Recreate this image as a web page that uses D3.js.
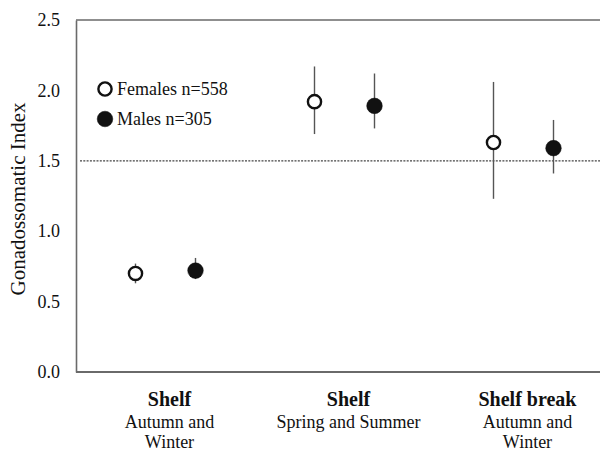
<!DOCTYPE html>
<html>
<head>
<meta charset="utf-8">
<script src="https://cdn.jsdelivr.net/npm/d3@7"></script>
<style>
  html, body { margin: 0; padding: 0; background: #fff; }
  svg { display: block; font-family: "Liberation Serif", "Times New Roman", serif; }
</style>
</head>
<body>
<svg id="chart" width="600" height="453"></svg>
<script>
// Zone / season groups
const groupTitles = ["Shelf", "Shelf", "Shelf break"];
const groupSubtitles = [["Autumn and", "Winter"], ["Spring and Summer"], ["Autumn and", "Winter"]];

// Gonadosomatic index: mean and interval bounds per group
const femaleMean  = [0.70, 1.92, 1.63];
const femaleUpper = [0.77, 2.17, 2.06];
const femaleLower = [0.63, 1.69, 1.23];

const maleMean  = [0.72, 1.89, 1.59];
const maleUpper = [0.81, 2.12, 1.79];
const maleLower = [0.66, 1.73, 1.41];

const seriesNames = ["Females n=558", "Males n=305"];
const yTicks = [0.0, 0.5, 1.0, 1.5, 2.0, 2.5];
const referenceLevel = 1.5;
const yLabel = "Gonadossomatic Index";

const svg = d3.select("#chart");
const plotLeft = 76, plotTop = 20, plotBottom = 372, plotRight = 613;
const ink = "#111";

const x = d3.scaleBand().domain(d3.range(groupTitles.length)).range([plotLeft, plotRight]).padding(0);
const sex = d3.scalePoint().domain(["F", "M"])
  .range([x.bandwidth() / 2 - 30, x.bandwidth() / 2 + 30]);
const y = d3.scaleLinear().domain([0, 2.5]).range([plotBottom, plotTop]);

// frame: top and bottom rules
svg.append("line").attr("x1", plotLeft).attr("x2", 600).attr("y1", y(2.5)).attr("y2", y(2.5))
  .attr("stroke", "#6a6a6a").attr("stroke-width", 1.5);
svg.append("line").attr("x1", plotLeft).attr("x2", 600).attr("y1", y(0)).attr("y2", y(0))
  .attr("stroke", "#6a6a6a").attr("stroke-width", 1.8);

// left axis
const yAxis = svg.append("g").attr("transform", `translate(${plotLeft},0)`)
  .call(d3.axisLeft(y).tickValues(yTicks).tickFormat(d3.format(".1f")).tickSize(0).tickSizeOuter(0).tickPadding(16));
yAxis.select(".domain").attr("stroke", "#6a6a6a").attr("stroke-width", 1.6);
yAxis.selectAll("text").attr("font-size", 18).attr("fill", ink)
  .attr("font-family", "'Liberation Serif', 'Times New Roman', serif");

// axis title
svg.append("text")
  .attr("transform", `translate(25,199) rotate(-90)`)
  .attr("text-anchor", "middle").attr("font-size", 21).attr("fill", ink)
  .text(yLabel);

// reference level
svg.append("line").attr("x1", plotLeft + 4).attr("x2", 600)
  .attr("y1", y(referenceLevel)).attr("y2", y(referenceLevel))
  .attr("stroke", "#444").attr("stroke-width", 1.3).attr("stroke-dasharray", "2,1.3");

// series points with intervals
const series = [
  { key: "F", mean: femaleMean, lo: femaleLower, hi: femaleUpper, fill: "#fff", r: 6.6, sw: 2.4 },
  { key: "M", mean: maleMean, lo: maleLower, hi: maleUpper, fill: ink, r: 7.8, sw: 0.5 }
];

series.forEach(s => {
  const g = svg.append("g");
  const idx = d3.range(s.mean.length);
  g.selectAll("line.err").data(idx).join("line").attr("class", "err")
    .attr("x1", i => x(i) + sex(s.key)).attr("x2", i => x(i) + sex(s.key))
    .attr("y1", i => y(s.lo[i])).attr("y2", i => y(s.hi[i]))
    .attr("stroke", "#555").attr("stroke-width", 1.4);
  g.selectAll("circle").data(idx).join("circle")
    .attr("cx", i => x(i) + sex(s.key)).attr("cy", i => y(s.mean[i]))
    .attr("r", s.r).attr("fill", s.fill).attr("stroke", ink).attr("stroke-width", s.sw);
});

// legend
const legend = svg.append("g");
seriesNames.forEach((name, i) => {
  const s = series[i];
  const cy = 89 + i * 30;
  legend.append("circle").attr("cx", 105).attr("cy", cy).attr("r", s.r)
    .attr("fill", s.fill).attr("stroke", ink).attr("stroke-width", s.sw);
  legend.append("text").attr("x", 117).attr("y", cy).attr("dy", "0.33em")
    .attr("font-size", 18).attr("fill", ink).text(name);
});

// group labels under the axis
groupTitles.forEach((t, i) => {
  const cx = x(i) + x.bandwidth() / 2 + 4;
  const g = svg.append("g").attr("text-anchor", "middle").attr("fill", ink);
  g.append("text").attr("x", cx).attr("y", 406).attr("font-size", 20)
    .attr("font-weight", "bold").text(t);
  groupSubtitles[i].forEach((line, j) => {
    g.append("text").attr("x", cx).attr("y", 428 + j * 20).attr("font-size", 18).text(line);
  });
});
</script>
</body>
</html>
